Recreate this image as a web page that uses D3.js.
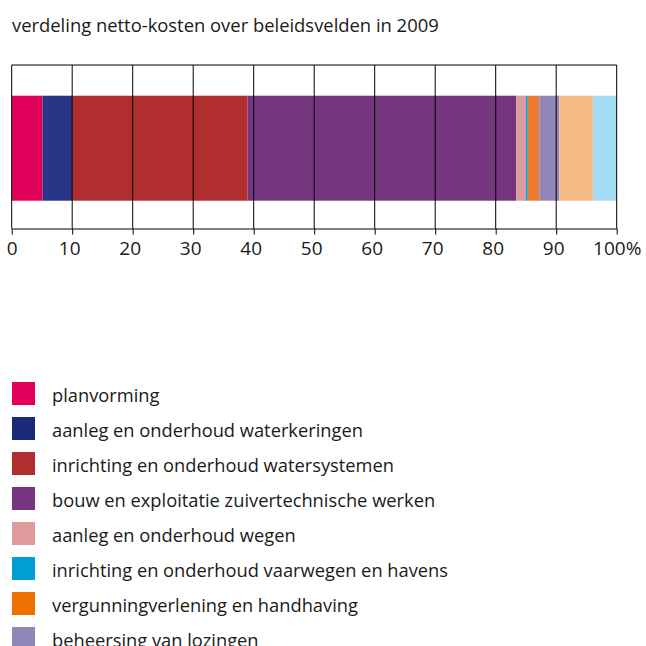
<!DOCTYPE html>
<html><head><meta charset="utf-8">
<script src="https://cdn.jsdelivr.net/npm/d3@7"></script>
<style>body{margin:0;background:#fff}svg{display:block}text{font-family:"Open Sans",sans-serif;fill:#1a1a1a}</style>
</head><body>
<svg id="c" width="646" height="646"></svg>
<script>
const title = "verdeling netto-kosten over beleidsvelden in 2009";
// legend entries visible in the picture (the last two segments' legend rows fall outside the frame)
const categories = [
  "planvorming",
  "aanleg en onderhoud waterkeringen",
  "inrichting en onderhoud watersystemen",
  "bouw en exploitatie zuivertechnische werken",
  "aanleg en onderhoud wegen",
  "inrichting en onderhoud vaarwegen en havens",
  "vergunningverlening en handhaving",
  "beheersing van lozingen"
];
const values = [5.1, 4.9, 29.0, 44.4, 1.6, 0.3, 1.9, 3.3, 5.6, 3.9];
const colors = ["#e2005a","#2a3587","#b02e2f","#76367f","#de9b9c","#009fd4","#ee7b30","#9086b8","#f7bb87","#a3dbf4"];
const legendColors = ["#e2005a","#1a2a7a","#b02e2f","#76367f","#de9b9c","#009fd4","#ee7203","#9086b8"];
const tickValues = [0,10,20,30,40,50,60,70,80,90,100];
const tickLabels = ["0","10","20","30","40","50","60","70","80","90","100%"];

const svg = d3.select("#c");
const L = 11.7, R = 616.7, T = 65, B = 228.5, barT = 95.7, barB = 200.7;
const x = d3.scaleLinear().domain([0,100]).range([L,R]);

svg.append("text").attr("x",12).attr("y",32).attr("font-size",18.4).text(title);

let cum = 0;
const segs = values.map((v,i)=>{const s={start:cum,end:cum+v,c:colors[i]};cum+=v;return s;});
svg.append("g").selectAll("rect").data(segs).join("rect")
  .attr("x",d=>x(d.start)).attr("width",d=>x(d.end)-x(d.start))
  .attr("y",barT).attr("height",barB-barT).attr("fill",d=>d.c);

// grid lines
svg.append("g").selectAll("line").data(tickValues).join("line")
  .attr("x1",d=>x(d)).attr("x2",d=>x(d)).attr("y1",T).attr("y2",B)
  .attr("stroke","#000").attr("stroke-width",1);
svg.append("line").attr("x1",L).attr("x2",R).attr("y1",T).attr("y2",T).attr("stroke","#000");

const ax = svg.append("g").attr("transform",`translate(0,${B})`)
  .call(d3.axisBottom(x).tickValues(tickValues).tickSize(6).tickSizeOuter(0).tickPadding(0)
    .tickFormat((d,i)=>tickLabels[i]));
ax.select(".domain").attr("stroke","#000");
ax.selectAll(".tick line").attr("stroke","#000");
ax.selectAll(".tick text").attr("font-size",19).attr("font-family","Open Sans, sans-serif").attr("fill","#1a1a1a")
  .attr("dy",null).attr("y",26.5)
  .attr("dx",d=>(d>0 && d<100)?-3:0);

const lg = svg.append("g").selectAll("g").data(categories).join("g")
  .attr("transform",(d,i)=>`translate(12,${382+i*35})`);
lg.append("rect").attr("width",23).attr("height",23).attr("fill",(d,i)=>legendColors[i]);
lg.append("text").attr("x",40).attr("y",20).attr("font-size",18.3).text(d=>d);
</script>
</body></html>
